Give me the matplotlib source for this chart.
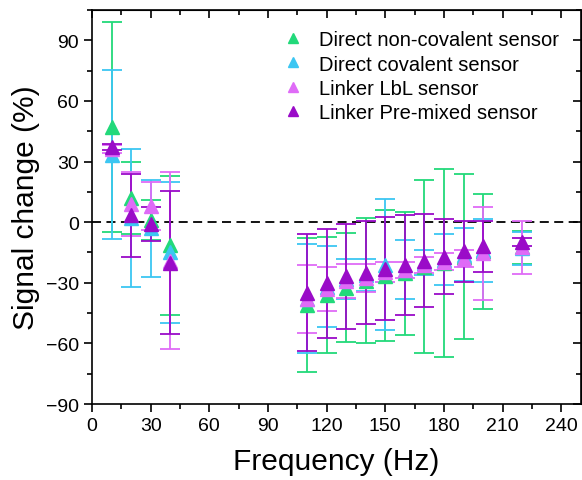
import matplotlib.pyplot as plt
from matplotlib.ticker import MultipleLocator

plt.rcParams['font.family'] = ['Liberation Sans', 'DejaVu Sans']

# Frequencies (Hz)
freq = [10, 20, 30, 40, 110, 120, 130, 140, 150, 160, 170, 180, 190, 200, 220]

# Signal change (%) and standard deviations for each sensor
direct_noncov = [47, 12, 1, -11.5, -41, -36, -32.5, -29, -26.5, -25.4, -22, -20, -17, -14.5, -12.5]
direct_noncov_err = [52, 18, 10, 34.5, 33, 28.7, 27, 31, 32.5, 30.6, 43, 46.5, 41, 28.5, 8]

direct_cov = [33.5, 2, -3, -15, -38, -32, -28, -26, -21, -23.5, -20, -18.5, -16, -14, -13]
direct_cov_err = [42, 34, 24, 35, 27, 20, 10, 8, 32.4, 14.5, 6, 12.5, 13, 15.5, 8]

linker_lbl = [36, 9, 8, -19, -38, -33, -29, -27.5, -24.5, -23.5, -21, -19.5, -18, -15.5, -12.5]
linker_lbl_err = [2, 16, 12, 44, 17, 11, 8.5, 7, 5, 4, 4, 4, 4, 23, 13]

linker_premix = [37, 3.5, -1, -20, -35, -30.3, -26.7, -25, -23, -21.3, -19, -17, -14.5, -12, -10]
linker_premix_err = [1.5, 20.5, 8.5, 35.4, 29, 27, 26, 25.6, 25.6, 24.8, 23, 18.5, 15, 12.5, 2]

series = [
    ('Direct non-covalent sensor', direct_noncov, direct_noncov_err, '#22D97A'),
    ('Direct covalent sensor', direct_cov, direct_cov_err, '#3CC6F2'),
    ('Linker LbL sensor', linker_lbl, linker_lbl_err, '#DF6BF7'),
    ('Linker Pre-mixed sensor', linker_premix, linker_premix_err, '#9A0BC8'),
]

fig = plt.figure(figsize=(5.82, 4.81), dpi=100)
ax = fig.add_axes([0.158, 0.158, 0.840, 0.819])

ax.axhline(0, color='black', linestyle=(0, (5, 3)), lw=1.3, zorder=1)

for label, y, err, color in series:
    ax.errorbar(freq, y, yerr=err, fmt='^', color=color, ecolor=color,
                markersize=10.5, elinewidth=1.3, capsize=7, capthick=1.3,
                label=label, zorder=2)

ax.set_xlim(0, 250)
ax.set_ylim(-90, 105)
ax.xaxis.set_major_locator(MultipleLocator(30))
ax.xaxis.set_minor_locator(MultipleLocator(15))
ax.yaxis.set_major_locator(MultipleLocator(30))
ax.yaxis.set_minor_locator(MultipleLocator(15))

for s in ax.spines.values():
    s.set_linewidth(1.2)

ax.tick_params(which='both', direction='out', width=1.2, labelsize=14)
ax.tick_params(which='major', length=6)
ax.tick_params(which='minor', length=3.5)
# inward ticks on the top and right frame
ax2 = ax.secondary_xaxis('top')
ax2.xaxis.set_major_locator(MultipleLocator(30))
ax2.xaxis.set_minor_locator(MultipleLocator(15))
ax2.tick_params(which='both', direction='in', width=1.2, labeltop=False)
ax2.tick_params(which='major', length=6)
ax2.tick_params(which='minor', length=3.5)
ay2 = ax.secondary_yaxis('right')
ay2.yaxis.set_major_locator(MultipleLocator(30))
ay2.yaxis.set_minor_locator(MultipleLocator(15))
ay2.tick_params(which='both', direction='in', width=1.2, labelright=False)
ay2.tick_params(which='major', length=6)
ay2.tick_params(which='minor', length=3.5)

ax.set_xlabel('Frequency (Hz)', fontsize=21.5, labelpad=9)
ax.set_ylabel('Signal change (%)', fontsize=21.5, labelpad=4)

handles, labels = ax.get_legend_handles_labels()
handles = [h[0] for h in handles]
ax.legend(handles, labels, loc='upper left', bbox_to_anchor=(0.365, 0.985),
          frameon=False, fontsize=14.5, handlelength=0.8, handletextpad=0.9,
          labelspacing=0.27, markerscale=0.75, borderpad=0.2)

plt.savefig('out.png', dpi=100)
